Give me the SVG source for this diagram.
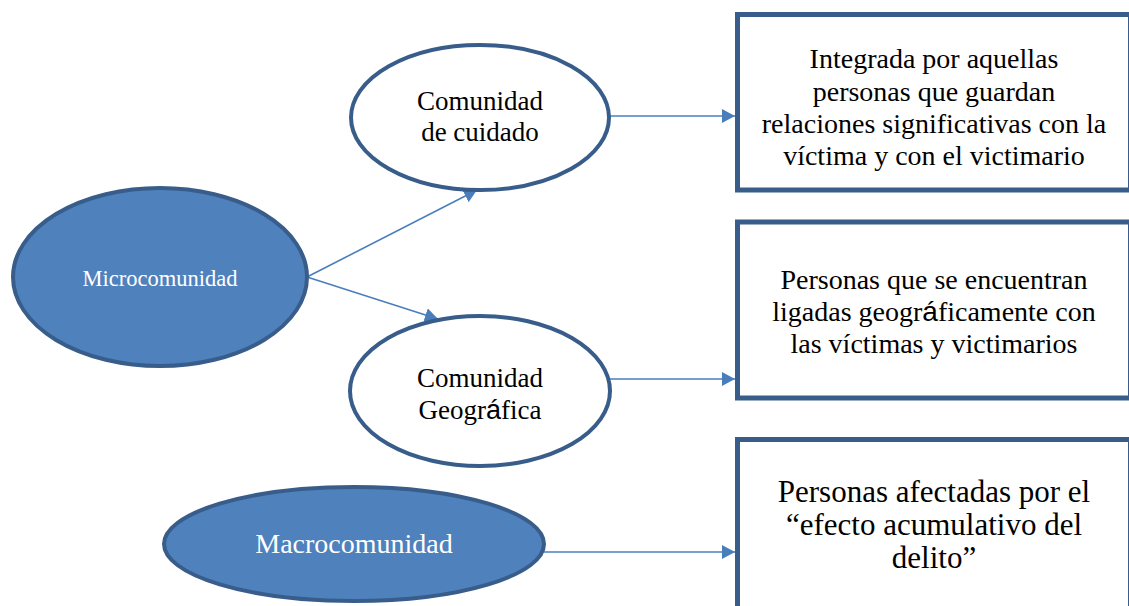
<svg xmlns="http://www.w3.org/2000/svg" width="1129" height="606" viewBox="0 0 1129 606">
<style>
.blue{fill:#4F81BD;stroke:#385D8A;stroke-width:4}
.white{fill:#FFFFFF;stroke:#385D8A;stroke-width:4}
.box{fill:#FFFFFF;stroke:#385D8A;stroke-width:5}
.conn{stroke:#4A7EBB;stroke-width:1.6;fill:none}
text{font-family:"Liberation Serif","Times New Roman",serif;text-anchor:middle}
.tw{fill:#FFFFFF}
.tb{fill:#000000}
.sans{font-family:"Liberation Sans",Arial,sans-serif}
</style>
<defs>
<marker id="arr" markerUnits="userSpaceOnUse" markerWidth="14" markerHeight="14" refX="13" refY="7" orient="auto">
<path d="M0,0 L13,7 L0,14 Z" fill="#4A7EBB"/>
</marker>
</defs>
<g id="connectors">
<line class="conn" x1="307" y1="277" x2="477" y2="190" marker-end="url(#arr)"/>
<line class="conn" x1="307" y1="277" x2="438" y2="319" marker-end="url(#arr)"/>
<line class="conn" x1="609" y1="116" x2="735" y2="116" marker-end="url(#arr)"/>
<line class="conn" x1="610" y1="379" x2="735" y2="379" marker-end="url(#arr)"/>
<line class="conn" x1="544" y1="552" x2="735" y2="552" marker-end="url(#arr)"/>
</g>
<g id="microcomunidad">
<ellipse class="blue" cx="160" cy="277" rx="147" ry="89"/>
<text class="tw" x="160" y="286" font-size="22.5">Microcomunidad</text>
</g>
<g id="comunidad-cuidado">
<ellipse class="white" cx="480" cy="117.5" rx="129" ry="72.5"/>
<text class="tb" font-size="27"><tspan x="480" y="110">Comunidad</tspan><tspan x="480" y="141">de cuidado</tspan></text>
</g>
<g id="comunidad-geografica">
<ellipse class="white" cx="480" cy="391" rx="130" ry="75"/>
<text class="tb" font-size="27"><tspan x="480" y="387">Comunidad</tspan><tspan x="480" y="419">Geogr<tspan class="sans">á</tspan>fica</tspan></text>
</g>
<g id="macrocomunidad">
<ellipse class="blue" cx="354" cy="544" rx="190" ry="57"/>
<text class="tw" x="354" y="553" font-size="28">Macrocomunidad</text>
</g>
<g id="box-cuidado">
<rect class="box" x="737.5" y="14.5" width="393" height="175.5"/>
<text class="tb" font-size="28"><tspan x="934" y="68">Integrada por aquellas</tspan><tspan x="934" y="100.5">personas que guardan</tspan><tspan x="934" y="133">relaciones significativas con la</tspan><tspan x="934" y="165">víctima y con el victimario</tspan></text>
</g>
<g id="box-geografica">
<rect class="box" x="737.5" y="222" width="393" height="176"/>
<text class="tb" font-size="28"><tspan x="934" y="289">Personas que se encuentran</tspan><tspan x="934" y="321">ligadas geogr<tspan class="sans">á</tspan>ficamente con</tspan><tspan x="934" y="353">las víctimas y victimarios</tspan></text>
</g>
<g id="box-macro">
<rect class="box" x="737.5" y="439.5" width="393" height="200"/>
<text class="tb" font-size="31"><tspan x="934" y="502">Personas afectadas por el</tspan><tspan x="934" y="535">“efecto acumulativo del</tspan><tspan x="934" y="568">delito”</tspan></text>
</g>
</svg>
